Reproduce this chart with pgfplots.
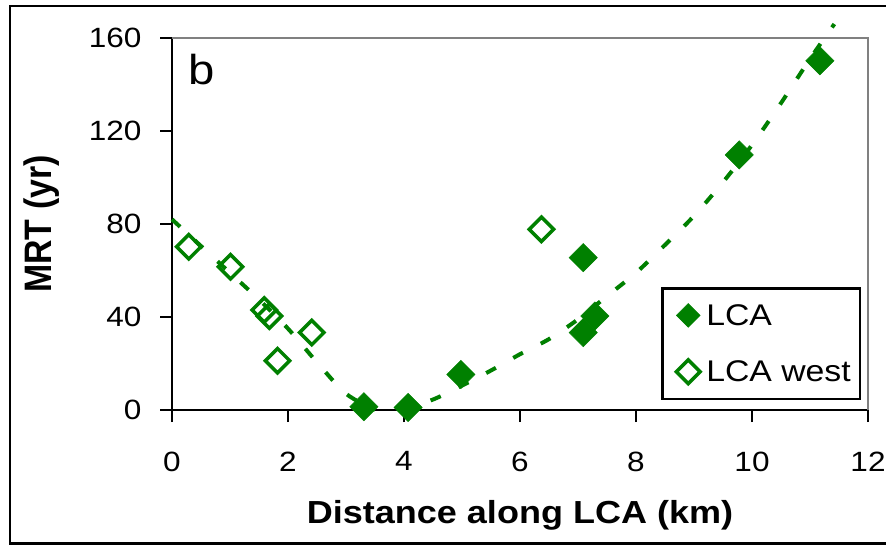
\documentclass[border=0pt]{standalone}
\usepackage{fontspec}
\setmainfont{Liberation Sans}[FakeStretch=1.13]
\newfontfamily\plainsans{Liberation Sans}
\usepackage{graphicx}
\usepackage{pgfplots}
\pgfplotsset{compat=1.18}
\definecolor{lcagreen}{RGB}{0,128,0}
\definecolor{spinegray}{RGB}{128,128,128}

\begin{document}
\begin{tikzpicture}
\useasboundingbox (0,0) rectangle (886bp,545bp);
% outer frame of the panel
\draw[line width=2.5bp] (10bp,1.5bp) rectangle (900bp,539bp);
\begin{axis}[
  at={(172bp,135bp)}, anchor=south west,
  scale only axis, width=696bp, height=372bp,
  xmin=0, xmax=12, ymin=0, ymax=160,
  xtick={0,2,...,12}, ytick={0,40,...,160},
  axis x line*=bottom, axis y line*=left,
  axis line style={line width=2.2bp, black},
  tick style={line width=2.2bp, black},
  tick align=outside, major tick length=12bp,
  /pgf/number format/assume math mode=true,
  tick label style={font=\fontsize{28}{28}\selectfont},
  xticklabel style={yshift=-26bp},
  yticklabel style={xshift=-15bp},
  clip=false,
  xlabel={\bfseries Distance along LCA (km)},
  xlabel style={font=\fontsize{32}{32}\selectfont, at={(axis description cs:0.5,-0.304)}, anchor=base},
  ylabel={\scalebox{1}[1.13]{\plainsans\bfseries MRT (yr)}},
  ylabel style={font=\fontsize{34}{34}\selectfont, at={(axis description cs:-0.188,0.5)}, anchor=center},
  legend style={at={(rel axis cs:0.990,0.3306)}, anchor=north east, draw=black, line width=2.5bp,
    font=\fontsize{30}{30}\selectfont, inner xsep=7bp, inner ysep=14bp, row sep=30bp,
    cells={anchor=west}},
  legend image code/.code={%
    \draw[#1] plot coordinates {(0bp,0bp)};
    \path[draw=none, fill=none] (-19bp,-10bp) rectangle (16bp,10bp);},
  legend image post style={mark size=8.4bp},
]
% gray top and right spines
\draw[spinegray, line width=2bp] (rel axis cs:0,1) -- (rel axis cs:1,1) -- (rel axis cs:1,0);

% trend lines
\addplot[lcagreen, line width=4bp, dash pattern=on 11bp off 20bp, smooth, forget plot]
  coordinates {(0,82)(0.5,70.5)(1.0,59)(1.5,47.5)(2.0,35)(2.5,20.5)(3.0,7)(3.5,0)};
\addplot[lcagreen, line width=4bp, dash pattern=on 11bp off 20bp, smooth, forget plot]
  coordinates {(3.95,0)(4.5,4.5)(5.0,10.5)(5.5,17)(6.0,24)(6.5,30.5)(7.0,39)(7.5,49)(8.0,59)(8.5,71)
               (9.0,83.5)(9.5,98)(10.0,114)(10.5,132)(11.0,151)(11.42,166)};

% LCA
\addplot[only marks, mark=square*, mark size=10bp,
  mark options={rotate=45, draw=lcagreen, fill=lcagreen, line width=0.5bp}]
  coordinates {(3.31,1.4)(4.07,1.1)(4.98,15.3)(7.09,65.5)(7.29,40.4)(7.09,33.3)(9.78,109.7)(11.17,150.2)};
\addlegendentry{LCA}
% LCA west
\addplot[only marks, mark=square, mark size=8.6bp,
  mark options={rotate=45, draw=lcagreen, line width=3.5bp}]
  coordinates {(0.29,70.2)(1.01,61.6)(1.59,43)(1.68,40.4)(1.82,21.2)(2.41,33.3)(6.37,77.7)};
\addlegendentry{LCA west}

\node[anchor=base west, inner sep=0pt, font=\fontsize{42}{42}\selectfont]
  at (rel axis cs:0.024,0.8737) {b};
\end{axis}
\end{tikzpicture}
\end{document}
